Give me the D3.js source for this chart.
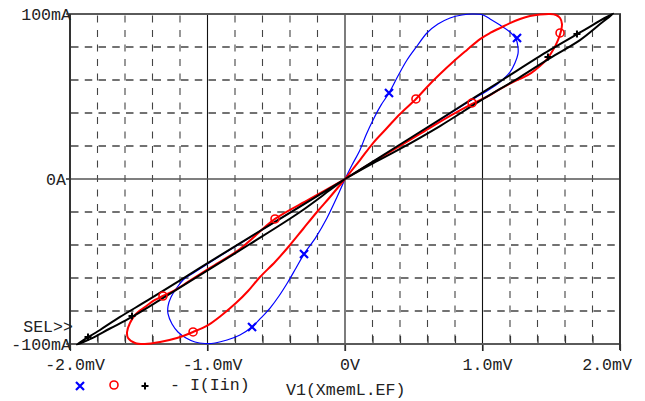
<!DOCTYPE html>
<html><head><meta charset="utf-8">
<script src="https://cdn.jsdelivr.net/npm/d3@7"></script>
<style>body{margin:0;background:#fff}svg{display:block}</style>
</head><body>
<script>
// ---- data (V in mV, I in mA) ----
const xMajorTicks = [-2, -1, 0, 1, 2];
const xTickLabels = ["-2.0mV", "-1.0mV", "0V", "1.0mV", "2.0mV"];
const xMinorTicks = [-1.8,-1.6,-1.4,-1.2,-0.8,-0.6,-0.4,-0.2,0.2,0.4,0.6,0.8,1.2,1.4,1.6,1.8];
const yMajorTicks = [100, 0, -100];
const yTickLabels = ["100mA", "0A", "-100mA"];
const yGridTicks = [-80,-60,-40,-20,20,40,60,80];

const blueUpper = [[0,0],[0.051,8.5],[0.109,17.6],[0.153,26.7],[0.204,35.8],[0.262,44.8],[0.320,52.1],[0.385,62.4],[0.451,72.1],[0.524,80.6],[0.596,88.5],[0.676,93.9],[0.764,97.6],[0.851,99.4],[0.931,100],[1.004,99.4],[1.055,97],[1.127,93.3],[1.2,89.1],[1.244,84.8],[1.258,80],[1.258,75.8],[1.236,70.3],[1.2,64.8],[1.127,58.8],[1.055,54.5],[0.982,50.9],[0.873,45.5],[0.691,35.8],[0.4,20.6],[0.182,9.4],[0,0]];
const blueLower = [[0,0],[-0.058,-10.9],[-0.131,-23.6],[-0.211,-35.2],[-0.298,-45.5],[-0.356,-53.9],[-0.415,-62.4],[-0.48,-70.9],[-0.545,-78.2],[-0.611,-84.2],[-0.676,-89.7],[-0.764,-94.5],[-0.858,-97.6],[-0.945,-99.4],[-1.018,-99.7],[-1.091,-98.8],[-1.156,-96.4],[-1.215,-92.7],[-1.258,-87.9],[-1.287,-81.8],[-1.287,-77],[-1.265,-71.5],[-1.229,-66.7],[-1.178,-61.2],[-1.091,-56.4],[-0.909,-46.7],[-0.618,-31.5],[-0.327,-16.7],[0,0]];
const redUpper = [[0,0],[0.109,11.5],[0.204,21.8],[0.305,30.9],[0.4,39.4],[0.516,48.5],[0.604,56.4],[0.691,63.6],[0.785,70.9],[0.887,78.2],[0.982,84.8],[1.055,88.5],[1.127,91.5],[1.2,94.5],[1.273,97],[1.345,98.8],[1.418,99.7],[1.491,100],[1.535,99.4],[1.564,97.6],[1.578,93.9],[1.571,89.7],[1.549,84.2],[1.513,78.2],[1.469,72.7],[1.418,68.5],[1.353,64.2],[1.287,61.2],[1.222,58.8],[1.127,54.5],[1.055,50.9],[0.924,45.5],[0.764,38.2],[0.545,27.3],[0.327,16.4],[0.145,7.3],[0,0]];
const redLower = [[0,0],[-0.109,-10.9],[-0.204,-20],[-0.305,-30.3],[-0.4,-40],[-0.509,-50.3],[-0.618,-59.4],[-0.705,-67.9],[-0.793,-75.2],[-0.895,-82.4],[-0.996,-88.5],[-1.105,-92.7],[-1.222,-96.4],[-1.345,-98.8],[-1.455,-100],[-1.527,-99.4],[-1.578,-96.4],[-1.585,-92.7],[-1.564,-87.3],[-1.527,-82.4],[-1.455,-77.6],[-1.382,-73.3],[-1.324,-70.9],[-1.236,-67.3],[-1.142,-62.4],[-0.982,-53.9],[-0.764,-42.4],[-0.509,-24.2],[-0.255,-12.1],[0,0]];
const blackUpper = [[0,0],[0.4,20.9],[0.764,40],[1.127,59.1],[1.491,78.2],[1.709,88.8],[1.95,100.3],[1.855,93.9],[1.709,84.2],[1.491,73.3],[1.273,61.8],[0.982,47.3],[0.691,32.1],[0.4,18.2],[0.182,8.5],[0,0]];
const blackLower = [[0,0],[-0.327,-16.7],[-0.691,-35.2],[-1.055,-53.9],[-1.418,-72.7],[-1.636,-83.6],[-1.782,-91.5],[-1.95,-100.3],[-1.855,-97],[-1.709,-90.6],[-1.549,-83.6],[-1.345,-73.3],[-1.055,-58.2],[-0.691,-39.4],[-0.327,-20],[-0.109,-6.7],[0,0]];
const blueMarks = [[0.320,52.1],[1.251,85.5],[-0.298,-45.5],[-0.676,-89.7]];
const redMarks = [[0.516,48.5],[1.564,88.5],[0.924,46.1],[-0.509,-24.2],[-1.324,-70.9],[-1.105,-92.7]];
const blackMarks = [[1.687,87.9],[1.476,73.9],[-1.549,-83],[-1.869,-95.8]];

// ---- drawing ----
const svg = d3.select("body").append("svg").attr("width", 645).attr("height", 401);
const x = d3.scaleLinear().domain([-2, 2]).range([70, 620]);
const y = d3.scaleLinear().domain([-100, 100]).range([344, 14]);
const font = "'Liberation Mono', 'DejaVu Sans Mono', monospace";

// dashed grid
svg.append("g").selectAll("line").data(xMinorTicks).join("line")
  .attr("x1", d => x(d)).attr("x2", d => x(d)).attr("y1", y(100)).attr("y2", y(-100))
  .attr("stroke", "#444").attr("stroke-width", 1.1).attr("stroke-dasharray", "7,7.5").attr("stroke-dashoffset", -1.5);
svg.append("g").selectAll("line").data(yGridTicks).join("line")
  .attr("x1", x(-2)).attr("x2", x(2)).attr("y1", d => y(d)).attr("y2", d => y(d))
  .attr("stroke", "#444").attr("stroke-width", 1.4).attr("stroke-dasharray", "7.5,6.25").attr("stroke-dashoffset", -1);
// solid inner lines
svg.append("g").selectAll("line").data([-1, 0, 1]).join("line")
  .attr("x1", d => x(d)).attr("x2", d => x(d)).attr("y1", y(100)).attr("y2", y(-100) + 7)
  .attr("stroke", "#111").attr("stroke-width", 1.1);
svg.append("line").attr("x1", x(-2) - 4).attr("x2", x(2)).attr("y1", y(0)).attr("y2", y(0))
  .attr("stroke", "#555").attr("stroke-width", 1.5);

// bottom axis ticks
const gx = svg.append("g").attr("transform", `translate(0,${y(-100)})`);
gx.call(d3.axisBottom(x).tickValues(xMinorTicks).tickSize(-8).tickFormat(""));
gx.call(g => g.select(".domain").remove());
const gx2 = svg.append("g").attr("transform", `translate(0,${y(-100)})`);
gx2.call(d3.axisBottom(x).tickValues(xMajorTicks).tickSize(7).tickFormat(""));
gx2.call(g => g.select(".domain").remove());
svg.selectAll(".tick line").attr("stroke", "#333").attr("stroke-width", 1.2);

// left axis ticks
svg.append("g").selectAll("line").data(yMajorTicks).join("line")
  .attr("x1", x(-2) - 4).attr("x2", x(-2)).attr("y1", d => y(d)).attr("y2", d => y(d))
  .attr("stroke", "#555").attr("stroke-width", 1.5);

// frame
svg.append("rect").attr("x", x(-2)).attr("y", y(100)).attr("width", x(2) - x(-2)).attr("height", y(-100) - y(100))
  .attr("fill", "none").attr("stroke", "#5a5a5a").attr("stroke-width", 2);
svg.append("line").attr("x1", x(-2)).attr("x2", x(-2)).attr("y1", y(100)).attr("y2", y(-100) + 6)
  .attr("stroke", "#333").attr("stroke-width", 2);
svg.append("line").attr("x1", x(2)).attr("x2", x(2)).attr("y1", y(100)).attr("y2", y(-100) + 6)
  .attr("stroke", "#333").attr("stroke-width", 2);

// clip for curves
svg.append("clipPath").attr("id", "pc").append("rect")
  .attr("x", x(-2) - 1).attr("y", y(100) - 2).attr("width", x(2) - x(-2) + 2).attr("height", y(-100) - y(100) + 4);
const plot = svg.append("g").attr("clip-path", "url(#pc)");
const line = d3.line().x(d => x(d[0])).y(d => y(d[1])).curve(d3.curveCatmullRom.alpha(0.5));

[[blueUpper, "#0000ff", 1.2], [blueLower, "#0000ff", 1.2],
 [redUpper, "#ff0000", 2], [redLower, "#ff0000", 2],
 [blackUpper, "#000", 2], [blackLower, "#000", 2]].forEach(([d, c, w]) => {
  plot.append("path").datum(d).attr("d", line).attr("fill", "none").attr("stroke", c).attr("stroke-width", w);
});

// markers
function xMark(g, cx, cy, c) {
  g.append("path").attr("d", `M${cx-4},${cy-4}L${cx+4},${cy+4}M${cx+4},${cy-4}L${cx-4},${cy+4}`)
    .attr("stroke", c).attr("stroke-width", 2.2).attr("fill", "none");
}
function oMark(g, cx, cy, c) {
  g.append("circle").attr("cx", cx).attr("cy", cy).attr("r", 4).attr("fill", "none").attr("stroke", c).attr("stroke-width", 1.6);
}
function pMark(g, cx, cy, c) {
  g.append("path").attr("d", `M${cx-3.5},${cy}L${cx+3.5},${cy}M${cx},${cy-3.5}L${cx},${cy+3.5}`)
    .attr("stroke", c).attr("stroke-width", 2).attr("fill", "none");
}
blueMarks.forEach(d => xMark(plot, x(d[0]), y(d[1]), "#0000ff"));
redMarks.forEach(d => oMark(plot, x(d[0]), y(d[1]), "#ff0000"));
blackMarks.forEach(d => pMark(plot, x(d[0]), y(d[1]), "#000"));

// labels
const txt = svg.append("g").attr("font-family", font).attr("font-size", "16.6px").attr("fill", "#222");
txt.selectAll("text.xl").data(xMajorTicks).join("text").attr("class", "xl")
  .attr("x", (d, i) => i === xMajorTicks.length - 1 ? x(d) + 12 : x(d) + 5)
  .attr("text-anchor", (d, i) => i === xMajorTicks.length - 1 ? "end" : "middle")
  .attr("y", y(-100) + 26).text((d, i) => xTickLabels[i]);
txt.selectAll("text.yl").data(yMajorTicks).join("text").attr("class", "yl")
  .attr("x", d => d === 0 ? x(-2) - 4 : x(-2) + 1).attr("text-anchor", "end")
  .attr("y", d => y(d) + 5.5).text((d, i) => yTickLabels[i]);
txt.append("text").attr("x", x(-2) + 3).attr("text-anchor", "end").attr("y", y(-100) - 12.5).text("SEL>>");

// legend
xMark(svg, 80, 386, "#0000ff");
oMark(svg, 114, 385, "#ff0000");
pMark(svg, 145, 386, "#000");
txt.append("text").attr("x", 170).attr("y", 390).text("- I(Iin)");
txt.append("text").attr("x", 286).attr("y", 395).text("V1(XmemL.EF)");
</script>
</body></html>
